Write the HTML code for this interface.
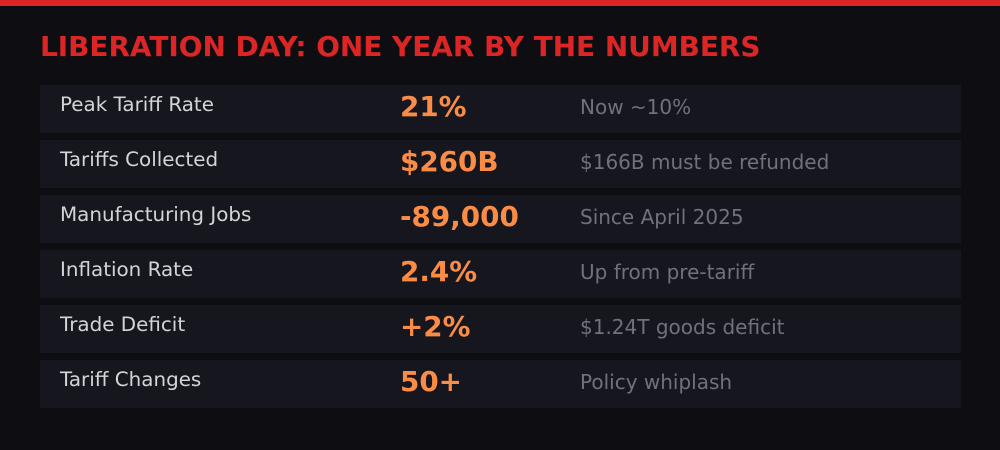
<!DOCTYPE html>
<html><head><style>
html,body{margin:0;padding:0;background:#0e0e12;width:1000px;height:450px;overflow:hidden}
</style></head><body>
<svg width="1000" height="450" xmlns="http://www.w3.org/2000/svg" font-family="DejaVu Sans, sans-serif">
<rect width="1000" height="450" fill="#0e0e12"/>
<rect width="1000" height="6" fill="#dc2626"/>
<text x="40" y="56" font-size="27.9" font-weight="bold" fill="#dc2626">LIBERATION DAY: ONE YEAR BY THE NUMBERS</text>
<g>
<rect x="40" y="85" width="921" height="48" fill="#16161f"/>
<rect x="40" y="140" width="921" height="48" fill="#16161f"/>
<rect x="40" y="195" width="921" height="48" fill="#16161f"/>
<rect x="40" y="250" width="921" height="48" fill="#16161f"/>
<rect x="40" y="305" width="921" height="48" fill="#16161f"/>
<rect x="40" y="360" width="921" height="48" fill="#16161f"/>
</g>
<g font-size="19.9" fill="#d4d4d8">
<text x="60" y="111">Peak Tariff Rate</text>
<text x="60" y="166">Tariffs Collected</text>
<text x="60" y="221">Manufacturing Jobs</text>
<text x="60" y="276">Inflation Rate</text>
<text x="60" y="331">Trade Deficit</text>
<text x="60" y="386">Tariff Changes</text>
</g>
<g font-size="27.8" font-weight="bold" fill="#fb8c45">
<text x="400" y="116">21%</text>
<text x="400" y="171">$260B</text>
<text x="400" y="226">-89,000</text>
<text x="400" y="281">2.4%</text>
<text x="400" y="336">+2%</text>
<text x="400" y="391">50+</text>
</g>
<g font-size="20" fill="#71717a">
<text x="580" y="114">Now ~10%</text>
<text x="580" y="169">$166B must be refunded</text>
<text x="580" y="224">Since April 2025</text>
<text x="580" y="279">Up from pre-tariff</text>
<text x="580" y="334">$1.24T goods deficit</text>
<text x="580" y="389">Policy whiplash</text>
</g>
</svg>
</body></html>
